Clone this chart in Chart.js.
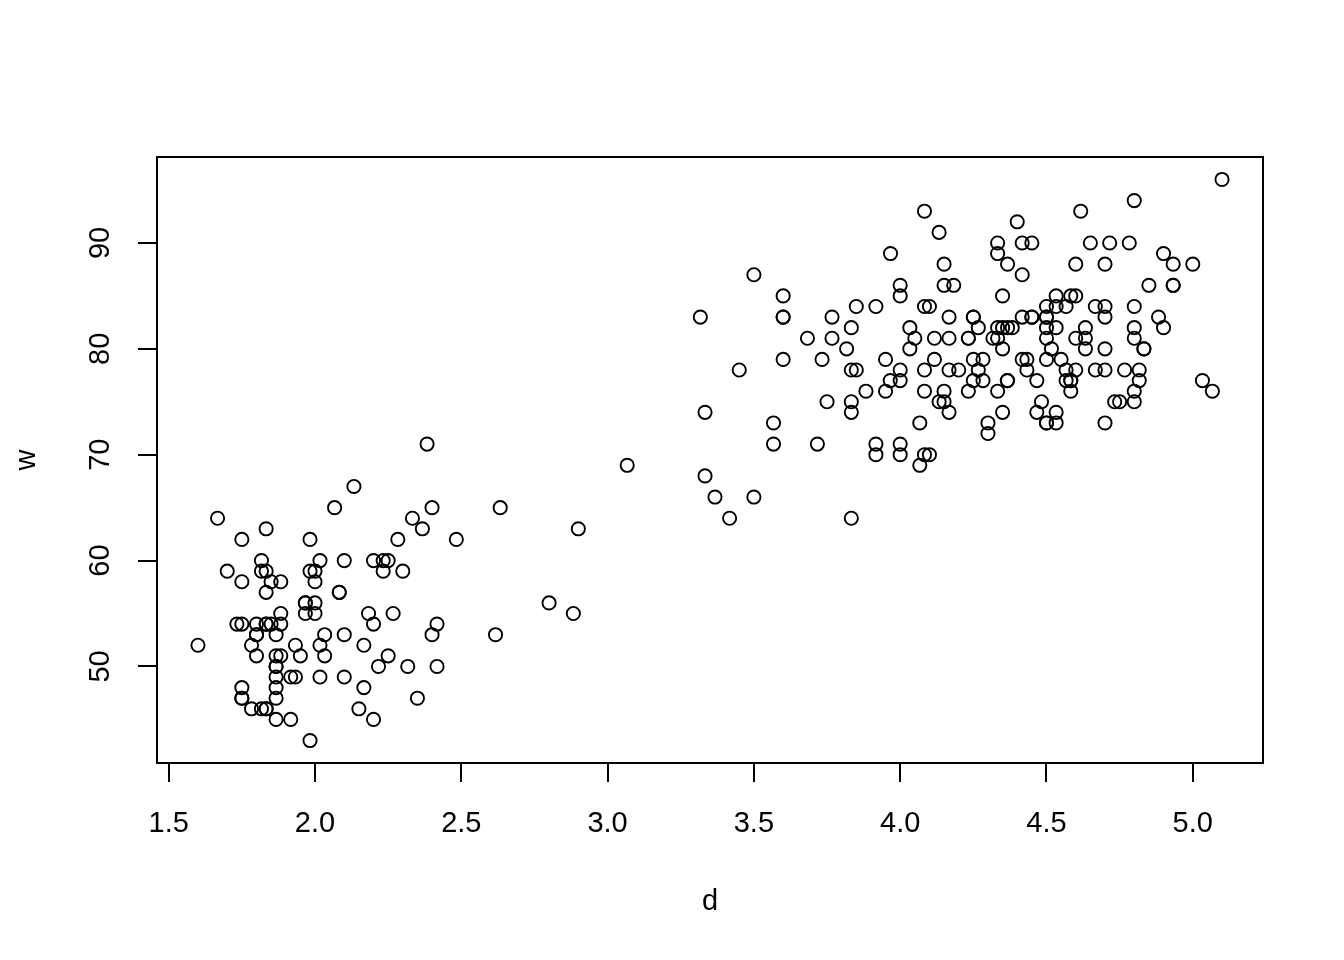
<!DOCTYPE html>
<html>
<head>
<meta charset="utf-8">
<script src="https://cdn.jsdelivr.net/npm/chart.js@4"></script>
<style>
  html, body { margin: 0; padding: 0; background: #fff; }
  canvas { display: block; }
</style>
</head>
<body>
<canvas id="chart" width="1344" height="960"></canvas>
<script>
// eruption duration (d) and waiting time (w)
const eruptions = [
  3.600, 1.800, 3.333, 2.283, 4.533, 2.883, 4.700, 3.600, 1.950, 4.350, 1.833, 3.917,
  4.200, 1.750, 4.700, 2.167, 1.750, 4.800, 1.600, 4.250, 1.800, 1.750, 3.450, 3.067,
  4.533, 3.600, 1.967, 4.083, 3.850, 4.433, 4.300, 4.467, 3.367, 4.033, 3.833, 2.017,
  1.867, 4.833, 1.833, 4.783, 4.350, 1.883, 4.567, 1.750, 4.533, 3.317, 3.833, 2.100,
  4.633, 2.000, 4.800, 4.716, 1.833, 4.833, 1.733, 4.883, 3.717, 1.667, 4.567, 4.317,
  2.233, 4.500, 1.750, 4.800, 1.817, 4.400, 4.167, 4.700, 2.067, 4.700, 4.033, 1.967,
  4.500, 4.000, 1.983, 5.067, 2.017, 4.567, 3.883, 3.600, 4.133, 4.333, 4.100, 2.633,
  4.067, 4.933, 3.950, 4.517, 2.167, 4.000, 2.200, 4.333, 1.867, 4.817, 1.833, 4.300,
  4.667, 3.750, 1.867, 4.900, 2.483, 4.367, 2.100, 4.500, 4.050, 1.867, 4.700, 1.783,
  4.850, 3.683, 4.733, 2.300, 4.900, 4.417, 1.700, 4.633, 2.317, 4.600, 1.817, 4.417,
  2.617, 4.067, 4.250, 1.967, 4.600, 3.767, 1.917, 4.500, 2.267, 4.650, 1.867, 4.167,
  2.800, 4.333, 1.833, 4.383, 1.883, 4.933, 2.033, 3.733, 4.233, 2.233, 4.533, 4.817,
  4.333, 1.983, 4.633, 2.017, 5.100, 1.800, 5.033, 4.000, 2.400, 4.600, 3.567, 4.000,
  4.500, 4.083, 1.800, 3.967, 2.200, 4.150, 2.000, 3.833, 3.500, 4.583, 2.367, 5.000,
  1.933, 4.617, 1.917, 2.083, 4.583, 3.333, 4.167, 4.333, 4.500, 2.417, 4.000, 4.167,
  1.883, 4.583, 4.250, 3.767, 2.033, 4.433, 4.083, 1.833, 4.417, 2.183, 4.800, 1.833,
  4.800, 4.100, 3.966, 4.233, 3.500, 4.366, 2.250, 4.667, 2.100, 4.350, 4.133, 1.867,
  4.600, 1.783, 4.367, 3.850, 1.933, 4.500, 2.383, 4.700, 1.867, 3.833, 3.417, 4.233,
  2.400, 4.800, 2.000, 4.150, 1.867, 4.267, 1.750, 4.483, 4.000, 4.117, 4.083, 4.267,
  3.917, 4.550, 4.083, 2.417, 4.183, 2.217, 4.450, 1.883, 1.850, 4.283, 3.950, 2.333,
  4.150, 2.350, 4.933, 2.900, 4.583, 3.833, 2.083, 4.367, 2.133, 4.350, 2.200, 4.450,
  3.567, 4.500, 4.150, 3.817, 3.917, 4.450, 2.000, 4.283, 4.767, 4.533, 1.850, 4.250,
  1.983, 2.250, 4.750, 4.117, 2.150, 4.417, 1.817, 4.467
];

const waiting = [
  79, 54, 74, 62, 85, 55, 88, 85, 51, 85, 54, 84, 78, 47, 83, 52, 62, 84, 52, 79, 51, 47, 78, 69,
  74, 83, 55, 76, 78, 79, 73, 77, 66, 80, 74, 52, 48, 80, 59, 90, 80, 58, 84, 58, 73, 83, 64, 53,
  82, 59, 75, 90, 54, 80, 54, 83, 71, 64, 77, 81, 59, 84, 48, 82, 60, 92, 78, 78, 65, 73, 82, 56,
  79, 71, 62, 76, 60, 78, 76, 83, 75, 82, 70, 65, 73, 88, 76, 80, 48, 86, 60, 90, 50, 78, 63, 72,
  84, 75, 51, 82, 62, 88, 49, 83, 81, 47, 84, 52, 86, 81, 75, 59, 89, 79, 59, 81, 50, 85, 59, 87,
  53, 69, 77, 56, 88, 81, 45, 82, 55, 90, 45, 83, 56, 89, 46, 82, 51, 86, 53, 79, 81, 60, 82, 77,
  76, 59, 80, 49, 96, 53, 77, 77, 65, 81, 71, 70, 81, 93, 53, 89, 45, 86, 58, 78, 66, 76, 63, 88,
  52, 93, 49, 57, 77, 68, 81, 81, 73, 50, 85, 74, 55, 77, 83, 83, 51, 78, 84, 46, 83, 55, 81, 57,
  76, 84, 77, 81, 87, 77, 51, 78, 60, 82, 91, 53, 78, 46, 77, 84, 49, 83, 71, 80, 49, 75, 64, 76,
  53, 94, 55, 76, 50, 82, 54, 75, 78, 79, 78, 78, 70, 79, 70, 54, 86, 50, 90, 54, 54, 77, 79, 64,
  75, 47, 86, 63, 85, 82, 57, 82, 67, 74, 54, 83, 73, 73, 88, 80, 71, 83, 56, 79, 78, 84, 58, 83,
  43, 60, 75, 81, 46, 90, 46, 74
];

const xTicks = [1.5, 2.0, 2.5, 3.0, 3.5, 4.0, 4.5, 5.0];
const yTicks = [50, 60, 70, 80, 90];
const xLabel = "d";
const yLabel = "w";

if (eruptions.length !== waiting.length) {
  throw new Error("length mismatch " + eruptions.length + " vs " + waiting.length);
}

const points = eruptions.map((d, i) => ({ x: d, y: waiting[i] }));

// R pads the data range by 4% on each side
const pad = (lo, hi) => [lo - (hi - lo) * 0.04, hi + (hi - lo) * 0.04];
const xRange = pad(Math.min(...eruptions), Math.max(...eruptions));
const yRange = pad(Math.min(...waiting), Math.max(...waiting));

const FONT = "'Liberation Sans', Arial, Helvetica, sans-serif";

// box around the plot region
const frame = {
  id: "frame",
  afterDraw(chart) {
    const a = chart.chartArea;
    const c = chart.ctx;
    c.save();
    c.strokeStyle = "#000";
    c.lineWidth = 2;
    c.strokeRect(a.left, a.top, a.right - a.left, a.bottom - a.top);
    c.restore();
  }
};

Chart.defaults.font.family = FONT;
Chart.defaults.color = "#000";

new Chart(document.getElementById("chart"), {
  type: "scatter",
  data: {
    datasets: [{
      data: points,
      pointStyle: "circle",
      pointRadius: 6.6,
      pointHoverRadius: 6.6,
      pointBorderWidth: 1.9,
      pointBorderColor: "#000",
      pointBackgroundColor: "rgba(0,0,0,0)"
    }]
  },
  options: {
    responsive: false,
    animation: false,
    devicePixelRatio: 1,
    layout: { padding: { left: 0, right: 81, top: 157, bottom: 0 } },
    plugins: { legend: { display: false }, tooltip: { enabled: false } },
    scales: {
      x: {
        type: "linear",
        position: "bottom",
        min: xRange[0],
        max: xRange[1],
        afterBuildTicks: (s) => { s.ticks = xTicks.map(v => ({ value: v })); },
        afterFit: (s) => { s.height = 197; },
        grid: { drawOnChartArea: false, drawTicks: true, tickLength: 19, color: "#000", lineWidth: 2 },
        border: { display: true, color: "#000", width: 2 },
        ticks: {
          minRotation: 0, maxRotation: 0, padding: 25,
          font: { size: 29 },
          callback: (v) => Number(v).toFixed(1)
        },
        title: { display: true, text: xLabel, font: { size: 29 }, padding: { top: 0, bottom: 41 } }
      },
      y: {
        type: "linear",
        position: "left",
        min: yRange[0],
        max: yRange[1],
        afterBuildTicks: (s) => { s.ticks = yTicks.map(v => ({ value: v })); },
        afterFit: (s) => { s.width = 157; },
        grid: { drawOnChartArea: false, drawTicks: true, tickLength: 19, color: "#000", lineWidth: 2 },
        border: { display: true, color: "#000", width: 2 },
        ticks: {
          minRotation: 90, maxRotation: 90, crossAlign: "center", padding: 21,
          font: { size: 29 },
          callback: (v) => String(v)
        },
        title: { display: true, text: yLabel, font: { size: 29 }, padding: { top: 10, bottom: 0 } }
      }
    }
  },
  plugins: [frame]
});
</script>
</body>
</html>
